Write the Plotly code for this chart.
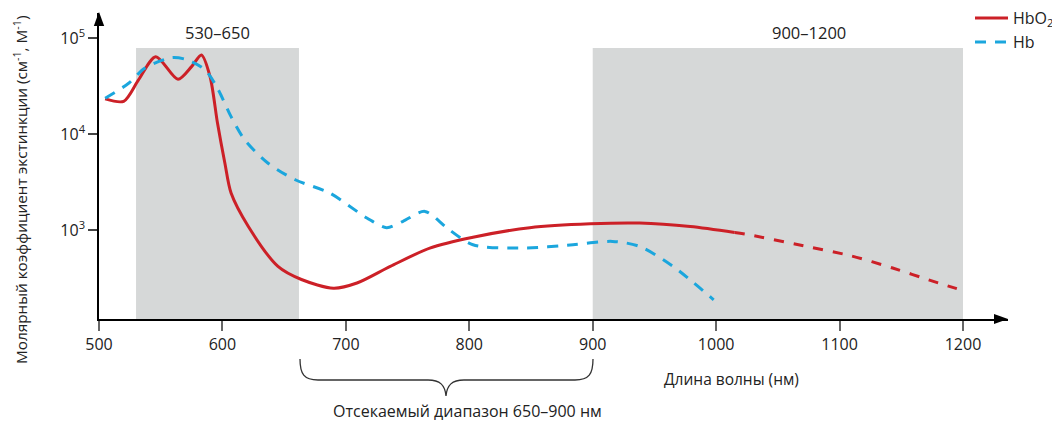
import plotly.graph_objects as go

# ---------------- data ----------------
hbo2_nm = [505, 520, 532, 546, 564, 575, 583, 590, 596, 602, 607, 621, 645, 664, 690, 709, 736, 768, 803, 849, 898, 938, 979, 1015]
hbo2_val = [23400, 22100, 36900, 64400, 37500, 50700, 67000, 39800, 13100, 5000, 2450, 1100, 423, 309, 251, 284, 423, 656, 851, 1070, 1175, 1195, 1100, 955]

hbo2_ext_nm = [1015, 1027, 1076, 1109, 1143, 1176, 1195]
hbo2_ext_val = [955, 900, 671, 546, 407, 295, 248]

hb_nm = [505, 524, 537, 559, 572, 586, 596, 607, 618, 637, 659, 687, 717, 733, 746, 764, 782, 803, 844, 884, 916, 938, 965, 998]
hb_val = [23800, 34000, 48800, 62800, 59400, 46800, 30200, 15300, 8770, 5010, 3370, 2450, 1350, 1070, 1240, 1580, 1060, 710, 656, 710, 770, 682, 423, 190]

bands = [(530, 662, "530–650"), (900, 1200, "900–1200")]
x_ticks = [500, 600, 700, 800, 900, 1000, 1100, 1200]
y_ticks = [1e3, 1e4, 1e5]
y_tick_text = ["10<sup>3</sup>", "10<sup>4</sup>", "10<sup>5</sup>"]
series_names = ["HbO<sub>2</sub>", "Hb"]

RED = "#cc2027"
BLUE = "#1ba6dd"
GRAY = "#d6d8d8"
TXT = "#222"
FONT = "Open Sans"

# ---------------- layout geometry ----------------
# The page body has an 8px default margin, so the figure is drawn 8px
# right/down of the window origin; the plot area is placed accordingly.
W, H = 1060, 425
OFF = 8
X_LEFT, X_RIGHT, Y_TOP, Y_BOTTOM = 99, 1008, 13, 319   # window pixels
ML = X_LEFT - OFF
MR = W - (X_RIGHT - OFF)
MT = Y_TOP - OFF
MB = H - (Y_BOTTOM - OFF)
PW = X_RIGHT - X_LEFT
PH = Y_BOTTOM - Y_TOP


def px(xp):
    return (xp - X_LEFT) / PW


def py(yp):
    return (Y_BOTTOM - yp) / PH


def label(x, y, text, size=16, xanchor="center", xref="paper", **kw):
    return dict(xref=xref, yref="paper", x=x, y=y, text=text, showarrow=False,
                xanchor=xanchor, yanchor="middle",
                font=dict(family=FONT, size=size, color=TXT), **kw)


fig = go.Figure()

fig.add_trace(go.Scatter(
    x=hbo2_nm, y=hbo2_val, mode="lines", name=series_names[0],
    line=dict(color=RED, width=3, shape="spline", smoothing=0.8),
))
fig.add_trace(go.Scatter(
    x=hb_nm, y=hb_val, mode="lines", name=series_names[1],
    line=dict(color=BLUE, width=3, dash="11px,9px", shape="spline", smoothing=0.8),
))
fig.add_trace(go.Scatter(
    x=hbo2_ext_nm, y=hbo2_ext_val, mode="lines", name=series_names[0],
    line=dict(color=RED, width=3, dash="10px,10px", shape="spline", smoothing=0.8),
))

shapes = []
annotations = []
for x0, x1, text in bands:
    shapes.append(dict(type="rect", xref="x", yref="paper", x0=x0, x1=x1,
                       y0=0, y1=py(48), fillcolor=GRAY, line=dict(width=0), layer="below"))
    annotations.append(label((x0 + x1) / 2 + (25 if x0 == 900 else 0), py(32), text,
                             size=16.5, xref="x"))

# arrow heads
shapes.append(dict(type="path", xref="paper", yref="paper",
                   path=f"M {px(1008)} {py(319)} L {px(994)} {py(314)} L {px(994)} {py(324)} Z",
                   fillcolor="black", line=dict(width=0)))
shapes.append(dict(type="path", xref="paper", yref="paper",
                   path=f"M {px(99)} {py(12)} L {px(93.8)} {py(26)} L {px(104.2)} {py(26)} Z",
                   fillcolor="black", line=dict(width=0)))

# brace
pts = [
    ("M", [(300, 359)]),
    ("C", [(300, 374), (304, 380), (318, 380)]),
    ("L", [(428, 380)]),
    ("C", [(440, 380), (445, 385), (446, 396)]),
    ("C", [(447, 385), (452, 380), (464, 380)]),
    ("L", [(575, 380)]),
    ("C", [(589, 380), (593, 374), (593, 359)]),
]
path = " ".join(c + " " + " ".join(f"{px(a)} {py(b)}" for a, b in p) for c, p in pts)
shapes.append(dict(type="path", xref="paper", yref="paper", path=path,
                   line=dict(color="#333", width=1.3)))

# manual legend
shapes.append(dict(type="line", xref="paper", yref="paper", x0=px(975), x1=px(1008),
                   y0=py(18), y1=py(18), line=dict(color=RED, width=3)))
shapes.append(dict(type="line", xref="paper", yref="paper", x0=px(975), x1=px(1008),
                   y0=py(42), y1=py(42), line=dict(color=BLUE, width=3, dash="11px,9px")))
annotations.append(label(px(1011), py(18), series_names[0], xanchor="left"))
annotations.append(label(px(1011), py(42), series_names[1], xanchor="left"))

annotations.append(label(px(467), py(411), "Отсекаемый диапазон 650–900 нм"))
annotations.append(label(px(731), py(379), "Длина волны (нм)", size=15.5))
annotations.append(label(px(21), py(190),
                         "Молярный коэффициент экстинкции (см<sup>-1</sup>, М<sup>-1</sup>)",
                         size=15.3, textangle=-90))

fig.update_layout(
    width=W, height=H,
    margin=dict(l=ML, r=MR, t=MT, b=MB, pad=0, autoexpand=False),
    plot_bgcolor="white", paper_bgcolor="white",
    font=dict(family=FONT, size=16, color=TXT),
    shapes=shapes, annotations=annotations,
    showlegend=False,
    xaxis=dict(range=[500, 500 + (X_RIGHT - X_LEFT) / 1.2343], showgrid=False, zeroline=False,
               automargin=False, showline=True, linecolor="black", linewidth=1.5,
               ticks="outside", ticklen=10, tickwidth=1.5, tickcolor="#666",
               tickvals=x_ticks, tickfont=dict(size=16)),
    yaxis=dict(type="log", range=[2.079, 5.263], showgrid=False, zeroline=False, automargin=False,
               showline=True, linecolor="black", linewidth=1.5,
               ticks="outside", ticklen=9, tickwidth=1.5, tickcolor="#444",
               tickvals=y_ticks, ticktext=y_tick_text, tickfont=dict(size=16)),
)

fig.write_html("out.html")
